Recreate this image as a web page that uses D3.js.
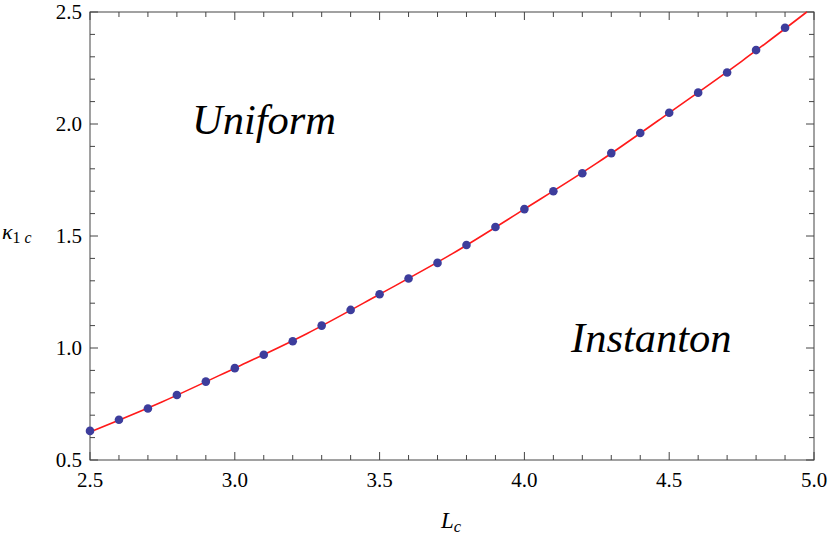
<!doctype html>
<html>
  <head>
    <style>
      body { margin: 0; }
      #wrap { position: relative; width: 830px; height: 540px; }
      #wrap svg { position: absolute; left: 0; top: 0; }
      .lbl { position: absolute; white-space: nowrap; line-height: 0; height: 0;
             font-family: 'Liberation Serif', 'Times New Roman', serif; color: #000; }
      .sub { position: relative; top: 0.25em; font-size: 0.72em; }
    </style>
  </head>
  <script src="https://cdnjs.cloudflare.com/ajax/libs/d3/7.8.5/d3.min.js"></script>
  <body>
    <div id="wrap"><svg id="chart" width="830" height="540"></svg></div>
    <script>

    // data points (L_c, kappa_1c)
    var Lc     = [2.5, 2.6, 2.7, 2.8, 2.9, 3.0, 3.1, 3.2, 3.3, 3.4, 3.5, 3.6, 3.7,
                  3.8, 3.9, 4.0, 4.1, 4.2, 4.3, 4.4, 4.5, 4.6, 4.7, 4.8, 4.9];
    var kappa  = [0.63, 0.68, 0.73, 0.79, 0.85, 0.91, 0.97, 1.03, 1.10, 1.17, 1.24, 1.31, 1.38,
                  1.46, 1.54, 1.62, 1.70, 1.78, 1.87, 1.96, 2.05, 2.14, 2.23, 2.33, 2.43];
    // fitted red curve (leaves the frame at the top near 4.975)
    var fitX   = [2.5, 2.75, 3.0, 3.25, 3.5, 3.75, 4.0, 4.25, 4.5, 4.75, 4.975];
    var fitY   = [0.625, 0.76, 0.91, 1.065, 1.24, 1.42, 1.62, 1.825, 2.05, 2.28, 2.5];
    var xTicks = [2.5, 3.0, 3.5, 4.0, 4.5, 5.0];
    var yTicks = [0.5, 1.0, 1.5, 2.0, 2.5];

    var svg = d3.select("#chart");
    var wrap = d3.select("#wrap");
    var mLeft = 90, mRight = 814, mTop = 12, mBottom = 460;

    var x = d3.scaleLinear().domain([2.5, 5.0]).range([mLeft, mRight]);
    var y = d3.scaleLinear().domain([0.5, 2.5]).range([mBottom, mTop]);

    var minorX = d3.range(25, 51).map(function(d){ return d / 10; });
    var minorY = d3.range(5, 26).map(function(d){ return d / 10; });
    var isMajor = function(v){ return Math.abs(v * 2 - Math.round(v * 2)) < 1e-6; };

    // html text label, (px, py) = baseline point; anchor: 0 start, 0.5 middle, 1 end
    function label(px, py, size, italic, anchor) {
      return wrap.append("div").attr("class", "lbl")
        .style("left", px + "px")
        .style("top", (py - 0.3375 * size) + "px")
        .style("font-size", size + "px")
        .style("font-style", italic ? "italic" : "normal")
        .style("transform", "translateX(" + (-anchor * 100) + "%)");
    }

    // frame
    svg.append("rect")
      .attr("x", mLeft).attr("y", mTop)
      .attr("width", mRight - mLeft).attr("height", mBottom - mTop)
      .attr("fill", "none").attr("stroke", "#444").attr("stroke-width", 1);

    var ticks = svg.append("g").attr("stroke", "#444").attr("stroke-width", 1);
    minorX.forEach(function(v){
      var len = isMajor(v) ? 8 : 5;
      ticks.append("line").attr("x1", x(v)).attr("x2", x(v)).attr("y1", mBottom).attr("y2", mBottom - len);
      ticks.append("line").attr("x1", x(v)).attr("x2", x(v)).attr("y1", mTop).attr("y2", mTop + len);
    });
    minorY.forEach(function(v){
      var len = isMajor(v) ? 8 : 5;
      ticks.append("line").attr("y1", y(v)).attr("y2", y(v)).attr("x1", mLeft).attr("x2", mLeft + len);
      ticks.append("line").attr("y1", y(v)).attr("y2", y(v)).attr("x1", mRight).attr("x2", mRight - len);
    });

    // tick labels
    xTicks.forEach(function(d){
      label(x(d), 487, 21, false, 0.5).text(d.toFixed(1));
    });
    yTicks.forEach(function(d){
      label(82, y(d) + 7, 21, false, 1).text(d.toFixed(1));
    });

    // axis labels
    var xl = label(441, 529, 23, true, 0);
    xl.append("span").text("L");
    xl.append("span").attr("class", "sub").text("c");

    var yl = label(2, 239, 22, true, 0);
    yl.append("span").text("κ");
    yl.append("span").attr("class", "sub").style("font-style", "normal").text("1 ");
    yl.append("span").attr("class", "sub").text("c");

    // fitted curve
    var line = d3.line()
      .x(function(d){ return x(d[0]); })
      .y(function(d){ return y(d[1]); })
      .curve(d3.curveNatural);

    svg.append("path")
      .datum(d3.zip(fitX, fitY))
      .attr("d", line)
      .attr("fill", "none")
      .attr("stroke", "#ff1a1a")
      .attr("stroke-width", 1.6);

    // points
    svg.selectAll("circle").data(d3.zip(Lc, kappa)).enter().append("circle")
      .attr("cx", function(d){ return x(d[0]); })
      .attr("cy", function(d){ return y(d[1]); })
      .attr("r", 4.3)
      .attr("fill", "#3d3d9c");

    // region labels
    label(192, 134, 42.5, true, 0).text("Uniform");
    label(571, 352, 42.5, true, 0).text("Instanton");

  </script>
  </body>
</html>
